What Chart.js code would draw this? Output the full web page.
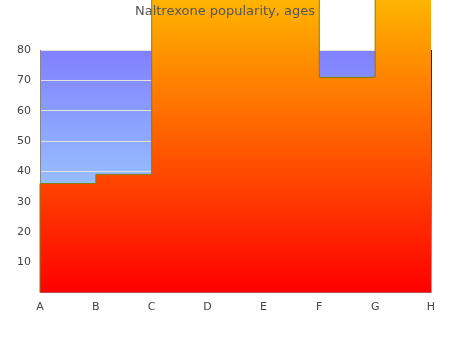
<!DOCTYPE html>
<html><head><meta charset="utf-8">
<script src="https://cdn.jsdelivr.net/npm/chart.js@4/dist/chart.umd.min.js"></script>
<style>html,body{margin:0;padding:0;background:#fff}</style>
</head><body>
<canvas id="c" width="450" height="350"></canvas>
<script>
const categories = ['A', 'B', 'C', 'D', 'E', 'F', 'G', 'H'];
const popularity = [0, 36, 39, 112, 118, 108, 71, 115];
const yTickValues = [0, 10, 20, 30, 40, 50, 60, 70, 80];
const titleText = 'Naltrexone popularity, ages';

const FONT = "'DejaVu Sans', sans-serif";

const bgPlugin = {
  id: 'areaBg',
  beforeLayout(chart) {
    const tb = chart.titleBlock;
    if (tb && !tb._patched) {
      tb._layers = function () { return [{ z: 1, draw(area) { tb.draw(area); } }]; };
      tb._patched = true;
    }
  },
  beforeDraw(chart) {
    const { ctx, chartArea: a } = chart;
    if (!a) return;
    const g = ctx.createLinearGradient(0, a.top, 0, a.bottom);
    g.addColorStop(0, 'rgb(128,128,255)');
    g.addColorStop(1, 'rgb(168,240,255)');
    ctx.save();
    ctx.fillStyle = g;
    ctx.fillRect(a.left, a.top, a.right - a.left, a.bottom - a.top);
    ctx.restore();
  },
  beforeDatasetsDraw(chart) {
    // let the area fill run above the plot, as in the reference (unclipped)
    chart._savedArea = chart.chartArea;
    chart.chartArea = Object.assign({}, chart.chartArea, { top: 0 });
  },
  afterDatasetsDraw(chart) {
    if (chart._savedArea) { chart.chartArea = chart._savedArea; chart._savedArea = null; }
    const { ctx, chartArea: a } = chart;
    const x = Math.round(a.right) + 0.5;
    const g = ctx.createLinearGradient(0, a.top, 0, a.bottom);
    g.addColorStop(0, 'rgb(0,0,255)');
    g.addColorStop(1, 'rgb(80,215,255)');
    ctx.save();
    ctx.strokeStyle = g;
    ctx.lineWidth = 1;
    ctx.beginPath();
    ctx.moveTo(x, a.top);
    ctx.lineTo(x, a.bottom);
    ctx.stroke();
    ctx.restore();
  }
};

new Chart(document.getElementById('c'), {
  type: 'line',
  data: {
    labels: categories,
    datasets: [{
      data: popularity,
      stepped: 'after',
      fill: 'origin',
      clip: false,
      borderColor: 'rgb(128,128,0)',
      borderWidth: 1,
      pointRadius: 0,
      backgroundColor(ctx) {
        const chart = ctx.chart;
        const a = chart.chartArea;
        if (!a) return 'rgb(255,80,0)';
        const g = chart.ctx.createLinearGradient(0, a.bottom, 0, 0);
        g.addColorStop(0, 'rgb(255,0,0)');
        g.addColorStop(1, 'rgb(255,180,0)');
        return g;
      }
    }]
  },
  options: {
    responsive: false,
    animation: false,
    devicePixelRatio: 1,
    layout: { padding: { left: 0, right: 0, top: 0, bottom: 28 } },
    plugins: {
      legend: { display: false },
      tooltip: { enabled: false },
      title: {
        display: true,
        text: titleText,
        color: '#555',
        font: { family: FONT, size: 13, weight: 'normal' },
        padding: { top: 4, bottom: 30.4 }
      }
    },
    scales: {
      x: {
        offset: false,
        grid: { display: false, drawTicks: false },
        border: { display: true, color: '#888', width: 1 },
        ticks: { color: '#444', font: { family: FONT, size: 11 }, padding: 8, maxRotation: 0 }
      },
      y: {
        min: 0,
        max: 80,
        afterFit(s) { s.width = 40; },
        afterBuildTicks(s) { s.ticks = yTickValues.map(v => ({ value: v })); },
        grid: { color: '#e2e2e2', drawTicks: false },
        border: { display: true, color: '#888', width: 1 },
        ticks: {
          color: '#444',
          font: { family: FONT, size: 11 },
          padding: 9,
          callback: (v) => (v === 0 ? '' : String(v))
        }
      },
      yRight: {
        position: 'right',
        min: 0,
        max: 80,
        afterFit(s) { s.width = 19; },
        grid: { display: false, drawTicks: false },
        border: { display: false },
        ticks: { display: false }
      }
    }
  },
  plugins: [bgPlugin]
});
</script>
</body></html>
